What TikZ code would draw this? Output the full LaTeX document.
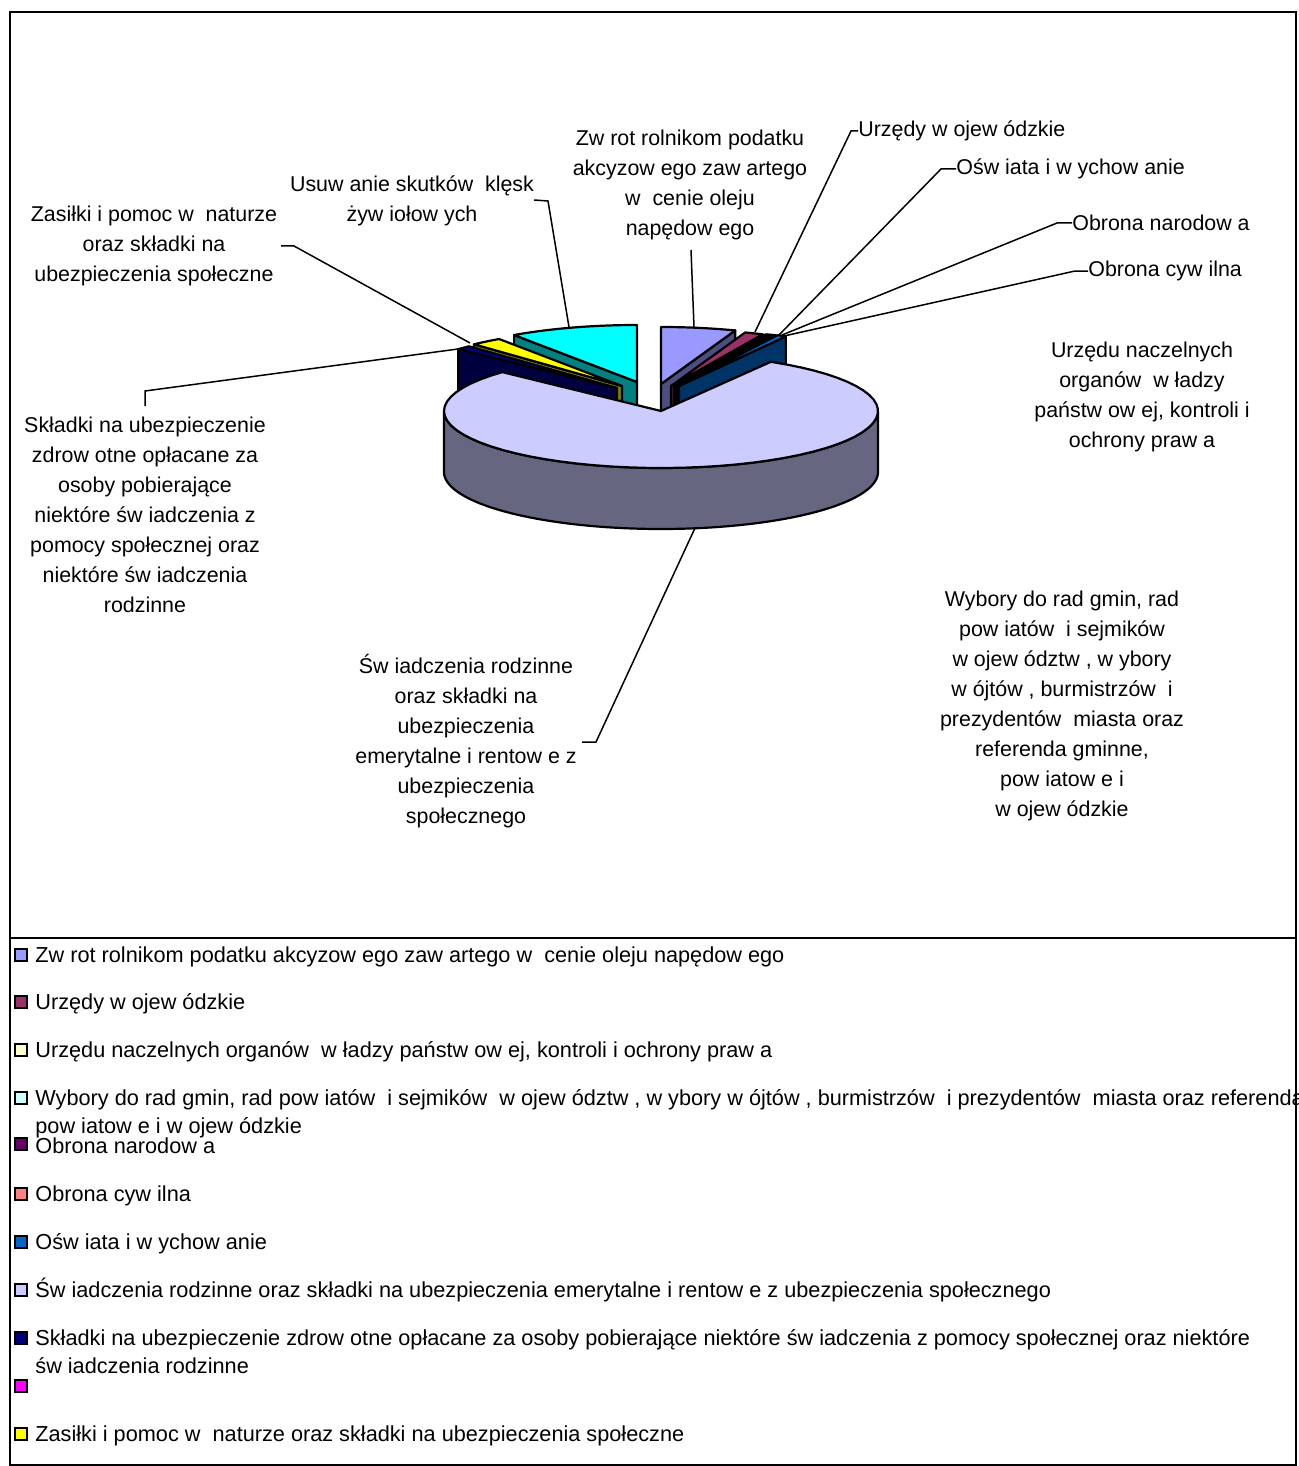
\documentclass[tikz,border=0pt]{standalone}
\usepackage{fontspec}
\setmainfont{Liberation Sans}
\newcommand\lbf{\fontsize{10.7pt}{15pt}\selectfont}
\newcommand\legf{\fontsize{10.85pt}{14pt}\selectfont}
\definecolor{cZw}{HTML}{9999FF}\definecolor{sZw}{HTML}{4D4D80}
\definecolor{cUw}{HTML}{993366}\definecolor{sUw}{HTML}{4D1A33}
\definecolor{cUn}{HTML}{FFFFCC}\definecolor{sUn}{HTML}{808066}
\definecolor{cWy}{HTML}{CCFFFF}\definecolor{sWy}{HTML}{668080}
\definecolor{cOn}{HTML}{660066}\definecolor{sOn}{HTML}{330033}
\definecolor{cOc}{HTML}{FF8080}\definecolor{sOc}{HTML}{804040}
\definecolor{cOs}{HTML}{0066CC}\definecolor{sOs}{HTML}{003366}
\definecolor{cSw}{HTML}{CCCCFF}\definecolor{sSw}{HTML}{666680}
\definecolor{cSk}{HTML}{000080}\definecolor{sSk}{HTML}{000040}
\definecolor{cMg}{HTML}{FF00FF}
\definecolor{cZa}{HTML}{FFFF00}\definecolor{sZa}{HTML}{808000}
\definecolor{cUs}{HTML}{00FFFF}\definecolor{sUs}{HTML}{008080}
\tikzset{
  lbl/.style={font=\lbf, align=center, inner sep=0pt},
  legtxt/.style={font=\legf, align=left, inner sep=0pt},
  legbox/.style={draw=black, line width=0.75pt, minimum size=5.8pt, inner sep=0pt},
  leader/.style={line width=0.75pt},
  pieline/.style={draw=black, line width=1.1pt, line join=round},
  frame/.style={draw=black, line width=1pt},
}
% top face of a slice: apex x, apex y, angle from, angle to, colour
\newcommand\pieTop[5]{\filldraw[pieline, fill=#5] (#1,#2) -- plot[domain=#3:#4, samples=60] ({#1+217*cos(\x)},{#2-57*sin(\x)}) -- cycle;}
% radial cut face of a slice: apex x, apex y, angle, colour
\newcommand\pieFace[4]{\filldraw[pieline, fill=#4] (#1,#2) -- ({#1+217*cos(#3)},{#2-57*sin(#3)}) -- ({#1+217*cos(#3)},{#2-57*sin(#3)+61}) -- (#1,{#2+61}) -- cycle;}
\frenchspacing
\begin{document}
\begin{tikzpicture}[x=0.5pt, y=-0.5pt]
\useasboundingbox (0,0) rectangle (1298,1466);
\fill[white] (0,0) rectangle (1298,1466);
\draw[frame] (10,12) rectangle (1296,1465);
\draw[frame] (10,938) -- (1296,938);

% ---- pie slices (back to front) ----
% Zwrot
\pieFace{661}{384}{70}{sZw}
\pieTop{661}{384}{70}{90}{cZw}
% Usuwanie
\pieFace{637}{382}{124.5}{sUs}
\pieTop{637}{382}{90}{124.5}{cUs}
% Urzedy wojewodzkie
\pieFace{671}{386}{65}{sUw}
\pieTop{671}{386}{65}{70}{cUw}
% tiny slices
\pieFace{674}{386}{64.5}{sUn}
\pieTop{674}{386}{64.5}{65}{cUn}
\pieFace{675}{386}{64}{sWy}
\pieTop{675}{386}{64}{64.5}{cWy}
\pieFace{676}{386}{63.5}{sOn}
\pieTop{676}{386}{63.5}{64}{cOn}
\pieFace{677}{386}{63}{sOc}
\pieTop{677}{386}{63}{63.5}{cOc}
% Oswiata
\pieFace{679}{386}{60.5}{sOs}
\pieTop{679}{386}{60.5}{63}{cOs}
% Zasilki
\pieFace{622}{386}{133}{sZa}
\pieTop{622}{386}{124.5}{133}{cZa}
% Skladki
\pieFace{617}{388}{137}{sSk}
\pieTop{617}{388}{133}{137}{cSk}
% Swiadczenia (big slice)
\filldraw[pieline, fill=sSw] plot[domain=180:360, samples=120] ({661+217*cos(\x)},{411-57*sin(\x)})
  -- plot[domain=360:180, samples=120] ({661+217*cos(\x)},{472-57*sin(\x)}) -- cycle;
\pieTop{661}{411}{137}{419.6}{cSw}

% ---- data labels ----
\node[lbl] (lZw) at (690,185) {Zw rot rolnikom podatku\\akcyzow ego zaw artego\\w~ cenie oleju\\napędow ego};
\node[lbl] (lUs) at (412,201) {Usuw anie skutków~ klęsk\\żyw iołow ych};
\node[lbl] (lZa) at (154,246) {Zasiłki i pomoc w~ naturze\\oraz składki na\\ubezpieczenia społeczne};
\node[lbl] (lSk) at (145,515) {Składki na ubezpieczenie\\zdrow otne opłacane za\\osoby pobierające\\niektóre św iadczenia z\\pomocy społecznej oraz\\niektóre św iadczenia\\rodzinne};
\node[lbl] (lSw) at (466,741) {Św iadczenia rodzinne\\oraz składki na\\ubezpieczenia\\emerytalne i rentow e z\\ubezpieczenia\\społecznego};
\node[lbl] (lUn) at (1142,397) {Urzędu naczelnych\\organów~ w ładzy\\państw ow ej, kontroli i\\ochrony praw a};
\node[lbl] (lWy) at (1062,706) {Wybory do rad gmin, rad\\pow iatów~ i sejmików\\w ojew ództw , w ybory\\w ójtów , burmistrzów~ i\\prezydentów~ miasta oraz\\referenda gminne,\\pow iatow e i\\w ojew ódzkie};
\node[lbl, anchor=west] (lUw) at (858,131) {Urzędy w ojew ódzkie};
\node[lbl, anchor=west] (lOs) at (956,169) {Ośw iata i w ychow anie};
\node[lbl, anchor=west] (lOn) at (1072,223) {Obrona narodow a};
\node[lbl, anchor=west] (lOc) at (1088,271) {Obrona cyw ilna};

% ---- leader lines ----
\coordinate (pZw) at (694,327);
\coordinate (qZw) at (691,250);
\coordinate (pUw) at (755,332);
\coordinate (pOs) at (779,335);
\coordinate (pOn) at (782,335);
\coordinate (pOc) at (784,336);
\coordinate (pSw) at (695,528);
\coordinate (qSw) at (582,742);
\coordinate (pSk) at (458,349);
\coordinate (qSk) at (145,406);
\coordinate (pZa) at (470,343);
\coordinate (qZa) at (281,246);
\coordinate (pUs) at (569,327);
\coordinate (qUs) at (534,200);
\draw[leader] (qZw) -- (pZw);
\draw[leader] (lUw.west) -- ++(-7,0) -- (pUw);
\draw[leader] (lOs.west) -- ++(-15,0) -- (pOs);
\draw[leader] (lOn.west) -- ++(-15,0) -- (pOn);
\draw[leader] (lOc.west) -- ++(-13,0) -- (pOc);
\draw[leader] (qSw) -- ++(14,0) -- (pSw);
\draw[leader] (qSk) -- ++(0,-15) -- (pSk);
\draw[leader] (qZa) -- ++(13,0) -- (pZa);
\draw[leader] (qUs) -- ++(14,1) -- (pUs);

% ---- legend ----
\node[legbox, fill=cZw] (m1) at (21,955) {};
\node[legbox, fill=cUw] (m2) at (21,1002) {};
\node[legbox, fill=cUn] (m3) at (21,1050) {};
\node[legbox, fill=cWy] (m4) at (21,1098) {};
\node[legbox, fill=cOn] (m5) at (21,1144) {};
\node[legbox, fill=cOc] (m6) at (21,1194) {};
\node[legbox, fill=cOs] (m7) at (21,1242) {};
\node[legbox, fill=cSw] (m8) at (21,1290) {};
\node[legbox, fill=cSk] (m9) at (21,1338) {};
\node[legbox, fill=cMg] (m10) at (21,1386) {};
\node[legbox, fill=cZa] (m11) at (21,1434) {};
\begin{scope}
\clip (0,0) rectangle (1298,1466);
\node[legtxt, anchor=base west] (t1) at (35,962) {Zw rot rolnikom podatku akcyzow ego zaw artego w~ cenie oleju napędow ego};
\node[legtxt, anchor=base west] (t2) at (35,1009) {Urzędy w ojew ódzkie};
\node[legtxt, anchor=base west] (t3) at (35,1057) {Urzędu naczelnych organów~ w ładzy państw ow ej, kontroli i ochrony praw a};
\node[legtxt, anchor=north west] (t4) at (35,1089) {Wybory do rad gmin, rad pow iatów~ i sejmików~ w ojew ództw , w ybory w ójtów , burmistrzów~ i prezydentów~ miasta oraz referenda gminne,\\pow iatow e i w ojew ódzkie};
\node[legtxt, anchor=base west] (t5) at (35,1153) {Obrona narodow a};
\node[legtxt, anchor=base west] (t6) at (35,1201) {Obrona cyw ilna};
\node[legtxt, anchor=base west] (t7) at (35,1249) {Ośw iata i w ychow anie};
\node[legtxt, anchor=base west] (t8) at (35,1297) {Św iadczenia rodzinne oraz składki na ubezpieczenia emerytalne i rentow e z ubezpieczenia społecznego};
\node[legtxt, anchor=north west] (t9) at (35,1329) {Składki na ubezpieczenie zdrow otne opłacane za osoby pobierające niektóre św iadczenia z pomocy społecznej oraz niektóre\\św iadczenia rodzinne};
\node[legtxt, anchor=base west] (t11) at (35,1441) {Zasiłki i pomoc w~ naturze oraz składki na ubezpieczenia społeczne};
\end{scope}
\end{tikzpicture}
\end{document}
